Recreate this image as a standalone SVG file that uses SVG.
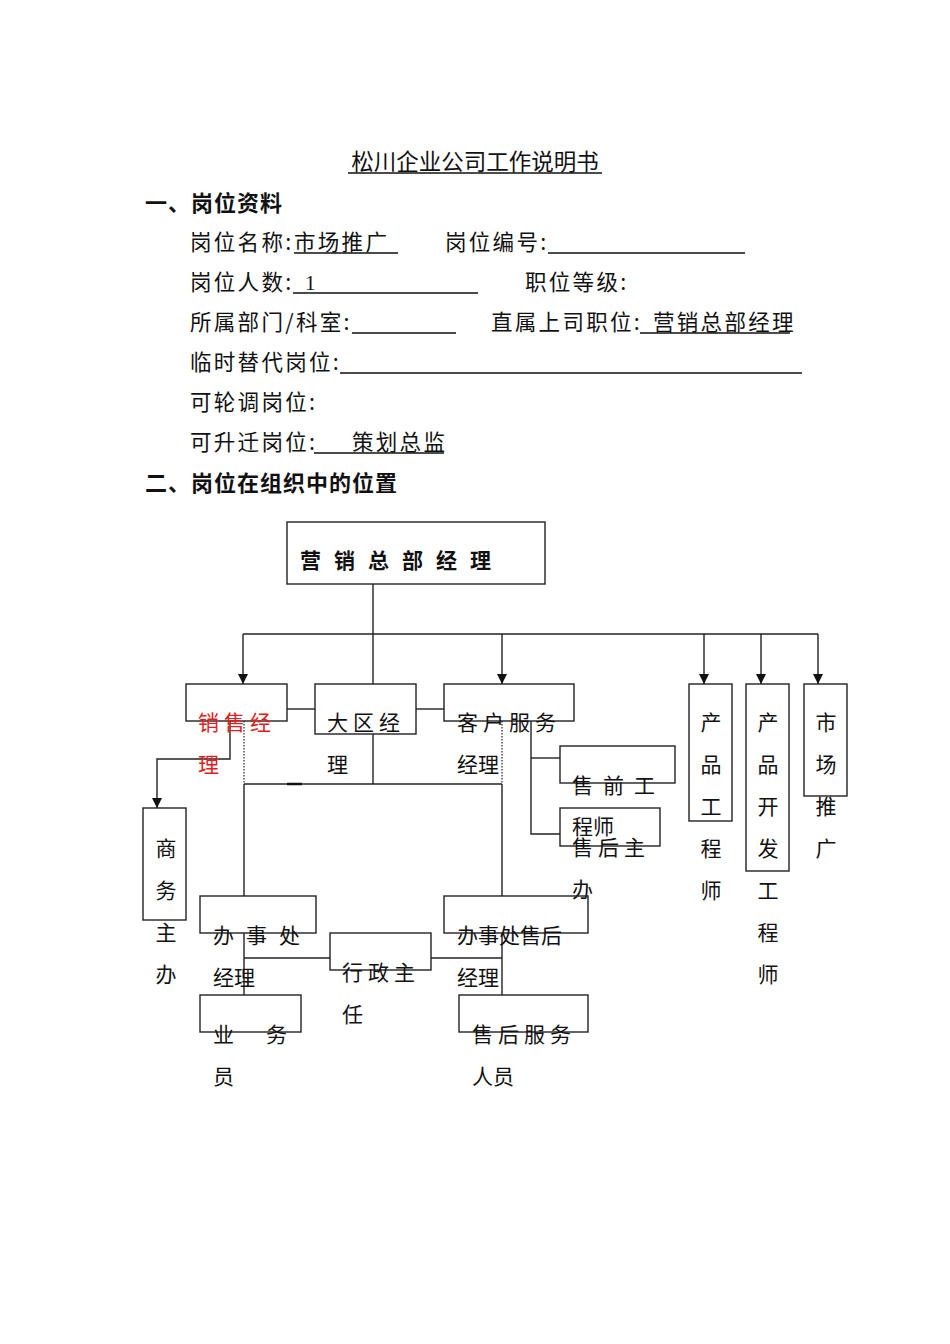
<svg xmlns="http://www.w3.org/2000/svg" width="950" height="1344" viewBox="0 0 950 1344">
<style>
text{font-family:"Noto Sans CJK SC","Liberation Sans",sans-serif;fill:#111}
.h{font-size:22px;font-weight:bold;letter-spacing:1px}
.t{font-size:21px}
.f{font-size:21.5px;letter-spacing:2.3px}
.c{font-size:21px;letter-spacing:5px}
.v{font-size:21px;text-anchor:middle}
.red{fill:#e02020}
.ul{stroke:#111;stroke-width:1.3}
.box{fill:none;stroke:#222;stroke-width:1.4}
.ln{fill:none;stroke:#222;stroke-width:1.4}
.dot{fill:none;stroke:#222;stroke-width:1.2;stroke-dasharray:1.5 1.5}
</style>
<defs>
<marker id="ah" markerWidth="10" markerHeight="10" refX="10" refY="5" orient="auto" markerUnits="userSpaceOnUse">
<path d="M0,0 L10,5 L0,10 Z" fill="#111"/>
</marker>
</defs>
<rect width="950" height="1344" fill="#fff"/>
<g id="header">
<text x="475" y="170" text-anchor="middle" style="font-size:22.5px">松川企业公司工作说明书</text>
<line class="ul" x1="348" y1="173" x2="602" y2="173"/>
<text class="h" x="145" y="211">一、岗位资料</text>
<text class="f" x="190" y="250">岗位名称:</text>
<text class="f" x="294" y="250">市场推广</text>
<line class="ul" x1="294" y1="253" x2="398" y2="253"/>
<text class="f" x="445" y="250">岗位编号:</text>
<line class="ul" x1="548" y1="253" x2="745" y2="253"/>
<text class="f" x="190" y="290">岗位人数:</text>
<text x="305" y="290" style="font-family:'Liberation Serif',serif;font-size:21px">1</text>
<line class="ul" x1="293" y1="293" x2="478" y2="293"/>
<text class="f" x="525" y="290">职位等级:</text>
<text class="f" x="190" y="330">所属部门/科室:</text>
<line class="ul" x1="352" y1="333" x2="456" y2="333"/>
<text class="f" x="491" y="330">直属上司职位:</text>
<text class="f" x="653" y="330">营销总部经理</text>
<line class="ul" x1="640" y1="333" x2="790" y2="333"/>
<text class="f" x="190" y="370">临时替代岗位:</text>
<line class="ul" x1="340" y1="373" x2="802" y2="373"/>
<text class="f" x="190" y="410">可轮调岗位:</text>
<text class="f" x="190" y="450">可升迁岗位:</text>
<text class="f" x="352" y="450">策划总监</text>
<line class="ul" x1="314" y1="453" x2="444" y2="453"/>
<text class="h" x="145" y="491">二、岗位在组织中的位置</text>
</g>
<g id="connectors">
<line class="ln" x1="373" y1="584" x2="373" y2="684"/>
<line class="ln" x1="243" y1="634" x2="818" y2="634"/>
<line class="ln" x1="243" y1="634" x2="243" y2="684" marker-end="url(#ah)"/>
<line class="ln" x1="502" y1="634" x2="502" y2="684" marker-end="url(#ah)"/>
<line class="ln" x1="704" y1="634" x2="704" y2="684" marker-end="url(#ah)"/>
<line class="ln" x1="761" y1="634" x2="761" y2="684" marker-end="url(#ah)"/>
<line class="ln" x1="818" y1="634" x2="818" y2="684" marker-end="url(#ah)"/>
<line class="ln" x1="287" y1="709" x2="315" y2="709"/>
<line class="ln" x1="416" y1="709" x2="444" y2="709"/>
<polyline class="ln" points="230,721 230,759 157,759 157,808" marker-end="url(#ah)"/>
<line class="dot" x1="244" y1="721" x2="244" y2="784"/>
<line class="dot" x1="502" y1="721" x2="502" y2="784"/>
<line class="ln" x1="373" y1="734" x2="373" y2="784"/>
<line class="ln" x1="244" y1="784" x2="502" y2="784"/>
<line x1="287" y1="784" x2="302" y2="784" stroke="#111" stroke-width="2.5"/>
<line class="ln" x1="244" y1="784" x2="244" y2="896"/>
<line class="ln" x1="502" y1="784" x2="502" y2="896"/>
<polyline class="ln" points="531,721 531,834 560,834"/>
<line class="ln" x1="531" y1="758" x2="560" y2="758"/>
<line class="ln" x1="244" y1="933" x2="244" y2="995"/>
<line class="ln" x1="502" y1="933" x2="502" y2="995"/>
<line class="ln" x1="244" y1="958" x2="330" y2="958"/>
<line class="ln" x1="431" y1="958" x2="502" y2="958"/>
</g>
<g id="n-top">
<rect class="box" x="287" y="522" width="258" height="62"/>
<text x="300" y="568" style="font-size:21px;font-weight:bold;letter-spacing:13px">营销总部经理</text>
</g>
<g id="n-sales">
<rect class="box" x="186" y="684" width="101" height="37"/>
<text class="c red" x="198" y="730">销售经</text>
<text class="c red" x="198" y="772">理</text>
</g>
<g id="n-region">
<rect class="box" x="315" y="684" width="101" height="50"/>
<text class="c" x="327" y="730">大区经</text>
<text class="c" x="327" y="772">理</text>
</g>
<g id="n-cs">
<rect class="box" x="444" y="684" width="130" height="37"/>
<text class="c" x="457" y="730">客户服务</text>
<text class="t" x="457" y="772">经理</text>
</g>
<g id="n-pe">
<rect class="box" x="689" y="684" width="43" height="137"/>
<text class="v" x="711" y="730">产</text>
<text class="v" x="711" y="772">品</text>
<text class="v" x="711" y="814">工</text>
<text class="v" x="711" y="856">程</text>
<text class="v" x="711" y="898">师</text>
</g>
<g id="n-pde">
<rect class="box" x="746" y="684" width="43" height="187"/>
<text class="v" x="768" y="730">产</text>
<text class="v" x="768" y="772">品</text>
<text class="v" x="768" y="814">开</text>
<text class="v" x="768" y="856">发</text>
<text class="v" x="768" y="898">工</text>
<text class="v" x="768" y="940">程</text>
<text class="v" x="768" y="982">师</text>
</g>
<g id="n-mkt">
<rect class="box" x="804" y="684" width="43" height="112"/>
<text class="v" x="826" y="730">市</text>
<text class="v" x="826" y="772">场</text>
<text class="v" x="826" y="814">推</text>
<text class="v" x="826" y="856">广</text>
</g>
<g id="n-biz">
<rect class="box" x="143" y="808" width="43" height="112"/>
<text class="v" x="166" y="856">商</text>
<text class="v" x="166" y="898">务</text>
<text class="v" x="166" y="940">主</text>
<text class="v" x="166" y="982">办</text>
</g>
<g id="n-presale">
<rect class="box" x="560" y="746" width="115" height="37"/>
<text class="t" x="572" y="793" style="letter-spacing:10px">售前工</text>
<text class="t" x="572" y="834">程师</text>
</g>
<g id="n-aftersale">
<rect class="box" x="560" y="808" width="100" height="38"/>
<text class="t" x="572" y="855" style="letter-spacing:5px">售后主</text>
<text class="t" x="572" y="897">办</text>
</g>
<g id="n-office">
<rect class="box" x="200" y="896" width="116" height="37"/>
<text class="t" x="213" y="943" style="letter-spacing:12px">办事处</text>
<text class="t" x="213" y="985">经理</text>
</g>
<g id="n-officeas">
<rect class="box" x="444" y="896" width="144" height="37"/>
<text class="t" x="457" y="943">办事处售后</text>
<text class="t" x="457" y="985">经理</text>
</g>
<g id="n-admin">
<rect class="box" x="330" y="933" width="101" height="37"/>
<text class="c" x="342" y="980">行政主</text>
<text class="t" x="342" y="1022">任</text>
</g>
<g id="n-staff">
<rect class="box" x="200" y="995" width="101" height="37"/>
<text class="t" x="213" y="1042">业</text>
<text class="t" x="266" y="1042">务</text>
<text class="t" x="213" y="1084">员</text>
</g>
<g id="n-service">
<rect class="box" x="459" y="995" width="129" height="37"/>
<text class="c" x="472" y="1042">售后服务</text>
<text class="t" x="472" y="1084">人员</text>
</g>
</svg>
